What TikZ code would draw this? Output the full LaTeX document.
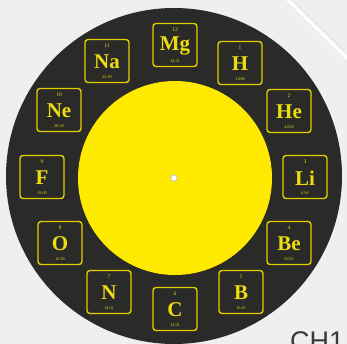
\documentclass[tikz,border=0pt]{standalone}
\usepackage{fontspec}
\newfontfamily\symfont{Liberation Serif}
\newfontfamily\labfont{Liberation Sans}
\definecolor{bgcol}{HTML}{EFEFEF}
\definecolor{darkbg}{HTML}{2A2A28}
\definecolor{diskyellow}{HTML}{FFE900}
\definecolor{tileyellow}{HTML}{E2CF00}
\definecolor{textyellow}{HTML}{EEDC10}
\definecolor{labgray}{HTML}{3A3A3A}
\begin{document}
\begin{tikzpicture}[x=1pt,y=-1pt,
  tile/.style={draw=tileyellow,line width=1.4pt,rounded corners=3pt,
    minimum width=44pt,minimum height=43pt,inner sep=0pt},
  sym/.style={text=textyellow,inner sep=0pt,font=\symfont\bfseries\fontsize{21}{21}\selectfont},
  num/.style={text=textyellow,inner sep=0pt,font=\symfont\fontsize{5.5}{5.5}\selectfont},
  mass/.style={text=textyellow,inner sep=0pt,font=\symfont\fontsize{4.2}{4.2}\selectfont}]
\useasboundingbox (0,0) rectangle (347,344);
\clip (0,0) rectangle (347,344);
\fill[bgcol] (0,0) rectangle (347,344);
\draw[white,line width=3pt] (286,-2) -- (349,60);
\draw[gray!18,line width=1.2pt] (290,-2) -- (349,56);
\node[anchor=north west,inner sep=0pt,text=labgray,font=\labfont\fontsize{27}{27}\selectfont] (lab) at (290,331) {CH1};
\fill[darkbg] (174,176) circle[radius=168];
\node[circle,fill=diskyellow,minimum size=194pt,inner sep=0pt] (disk) at (175,178) {};
\node[circle,fill=white,draw=gray!60,line width=0.6pt,minimum size=6.5pt,inner sep=0pt] (hole) at (174,178) {};
\foreach \s/\n/\m/\x/\y in {Mg/12/24.31/175/45, H/1/1.008/240/63, He/2/4.003/289/111,
  Li/3/6.94/305/177, Be/4/9.012/289/243, B/5/10.81/241/292, C/6/12.01/175/309,
  N/7/14.01/109/292, O/8/16.00/60/243, F/9/19.00/42/177, Ne/10/20.18/59/110, Na/11/22.99/107/61} {
  \node[tile] (t\s) at (\x,\y) {};
  \node[sym] (s\s) at (\x,\y+1) {\s};
  \node[num] (n\s) at (\x,\y-15) {\n};
  \node[mass] (m\s) at (\x,\y+16.5) {\m};
}
\end{tikzpicture}
\end{document}
